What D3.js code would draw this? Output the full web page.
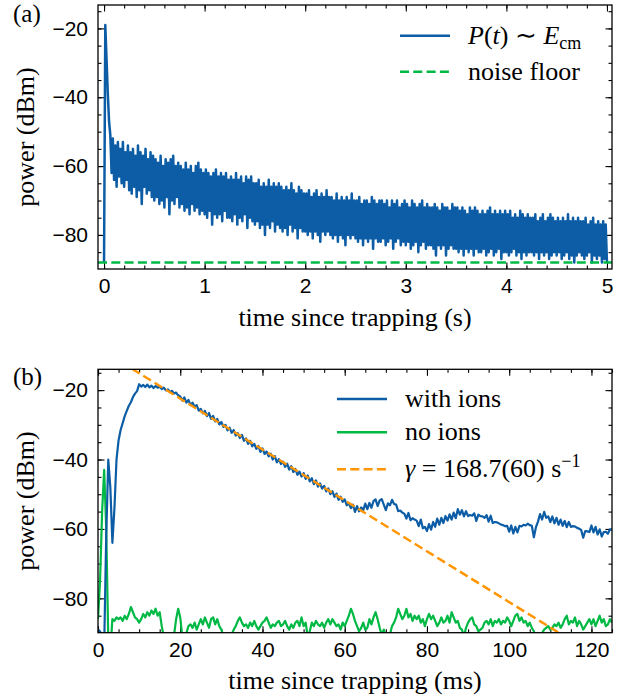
<!DOCTYPE html>
<html>
<head>
<meta charset="utf-8">
<script src="https://cdn.jsdelivr.net/npm/d3@7"></script>
<style>
  body { margin: 0; background: #fff; }
  svg { display: block; font-family: "Liberation Serif", "Times New Roman", serif; }
  .tick text { font-size: 21px; fill: #000; }
  .tick line { stroke: #000; stroke-width: 1.1; }
</style>
</head>
<body>
<div id="chart"></div>
<script>
// ---- data ----
// (a) long trace, one value every 12.5 ms from t = 0 to 5 s
const traceAStep = 0.0125;
const traceA = [
  -88, -19, -29, -39, -47, -51, -62, -52, -64, -54, -66, -53, -63, -55, -65, -53, -66, -56, -64, -54,
  -67, -56, -68, -55, -66, -57, -69, -54, -67, -56, -71, -57, -66, -55, -68, -58, -67, -56, -69, -57,
  -70, -58, -69, -59, -71, -57, -70, -60, -72, -58, -69, -59, -74, -58, -70, -57, -71, -60, -69, -59,
  -72, -60, -71, -61, -73, -59, -72, -61, -74, -60, -71, -62, -73, -60, -72, -59, -74, -61, -73, -62,
  -74, -61, -75, -62, -73, -63, -77, -62, -74, -61, -75, -63, -74, -62, -76, -63, -73, -62, -75, -64,
  -75, -63, -76, -64, -74, -62, -77, -64, -75, -63, -76, -65, -74, -63, -78, -64, -75, -63, -76, -65,
  -77, -65, -76, -64, -78, -66, -77, -65, -80, -66, -77, -64, -78, -66, -76, -65, -79, -66, -77, -65,
  -78, -66, -79, -67, -78, -66, -80, -67, -77, -65, -79, -67, -78, -68, -81, -66, -78, -67, -79, -68,
  -79, -68, -80, -67, -79, -69, -81, -68, -79, -67, -80, -69, -82, -68, -79, -69, -80, -67, -79, -69,
  -80, -69, -81, -70, -80, -68, -82, -70, -80, -69, -81, -70, -83, -69, -80, -70, -81, -68, -80, -70,
  -81, -70, -82, -69, -81, -71, -83, -70, -81, -70, -82, -71, -81, -69, -84, -70, -81, -71, -82, -70,
  -82, -70, -81, -71, -83, -70, -82, -72, -81, -70, -84, -71, -82, -70, -81, -72, -83, -71, -82, -70,
  -83, -71, -82, -72, -84, -70, -83, -71, -82, -72, -85, -71, -83, -70, -82, -72, -84, -71, -83, -72,
  -83, -72, -84, -71, -86, -72, -83, -73, -84, -71, -83, -72, -86, -72, -84, -73, -83, -71, -84, -72,
  -84, -72, -85, -73, -84, -72, -86, -73, -84, -74, -85, -72, -84, -73, -86, -72, -84, -73, -85, -74,
  -85, -73, -84, -74, -86, -73, -85, -72, -84, -74, -86, -73, -85, -74, -84, -73, -87, -74, -85, -73,
  -85, -74, -86, -73, -85, -75, -84, -74, -86, -75, -85, -73, -87, -74, -85, -75, -86, -74, -85, -75,
  -85, -75, -86, -74, -85, -76, -87, -75, -85, -74, -86, -76, -85, -75, -87, -74, -86, -75, -85, -76,
  -86, -75, -85, -76, -87, -75, -86, -76, -85, -74, -87, -76, -86, -75, -88, -76, -86, -75, -85, -76,
  -86, -76, -87, -75, -86, -77, -85, -76, -88, -75, -86, -77, -87, -76, -86, -77, -88, -76, -87, -77,
  -88
];
const noiseFloor = -88;

// (b) zoom on the first 125 ms, one value every 0.5 ms
const traceBStep = 0.5;
const withIons = [
  -89, -89.5, -91, -94, -62, -40, -48, -64, -54, -40,
  -34.5, -31.5, -29.5, -27.5, -26, -24.5, -23.5, -22, -21, -20.3,
  -18.3, -19, -18.5, -19.1, -18.4, -19.2, -18.7, -19.4, -18.8, -19.3,
  -19, -19.7, -19.3, -20.1, -19.8, -20.5, -20.2, -21, -20.7, -21.5,
  -21.8, -23.0, -22.1, -23.6, -22.8, -24.3, -23.6, -24.8, -24.3, -25.9,
  -25.4, -26.7, -26.0, -27.5, -26.6, -28.3, -27.4, -29.0, -28.3, -29.9,
  -29.2, -30.6, -30.0, -31.6, -30.8, -32.3, -31.5, -33.1, -32.4, -33.8,
  -32.9, -34.6, -33.9, -35.5, -34.6, -36.2, -35.5, -36.9, -36.1, -37.8,
  -36.8, -38.4, -37.7, -39.1, -38.3, -40.0, -39.0, -40.8, -39.9, -41.3,
  -40.6, -42.1, -41.2, -42.9, -41.9, -43.6, -42.7, -44.4, -43.5, -44.9,
  -43.9, -45.6, -44.6, -46.3, -45.4, -47.1, -46.0, -47.8, -46.9, -48.4,
  -47.6, -49.2, -48.3, -50.0, -49.1, -50.8, -49.8, -51.6, -50.7, -52.2,
  -51.5, -53.2, -52.6, -54.0, -53.0, -55.1, -53.4, -54.9, -53.8, -54.6,
  -52.7, -54.3, -52.5, -53.9, -52.0, -51.5, -53.4, -51.8, -51.4, -53.0,
  -54.6, -52.6, -53.2, -51.6, -52.8, -53.0, -54.9, -54.7, -55.3, -55.6,
  -57.0, -55.4, -57.5, -56.9, -57.3, -57.6, -59.2, -57.3, -59.8, -59.4,
  -60.6, -58.6, -60.2, -58.0, -59.4, -57.0, -58.8, -56.8, -58.3, -56.3,
  -57.6, -55.8, -57.3, -55.3, -56.9, -54.3, -55.9, -54.6, -56.4, -54.9,
  -56.3, -56.0, -56.2, -55.5, -57.7, -55.9, -56.3, -56.4, -56.8, -56.0,
  -57.9, -56.2, -58.3, -58.0, -58.1, -58.4, -58.7, -58.9, -59.2, -59.1,
  -60.8, -59.0, -61.3, -59.4, -61.0, -59.1, -59.3, -58.8, -59.0, -58.5,
  -58.9, -59.1, -62.4, -59.5, -57.9, -55.7, -57.3, -55.1, -56.8, -56.4,
  -58.0, -56.4, -58.4, -56.8, -58.8, -57.3, -59.1, -57.7, -59.5, -58.0,
  -59.4, -59.2, -59.3, -59.7, -59.9, -60.3, -62.5, -60.6, -60.7, -60.9,
  -59.0, -61.0, -59.4, -61.6, -60.1, -62.2, -60.9, -60.8, -61.4, -60.1,
  -60.3
];
const noIons = [
  -86, -75, -55, -43, -60, -92, -95, -86, -86.5, -85.5,
  -86, -85.5, -86.5, -85, -86, -84.5, -82.5, -84, -85.5, -86,
  -87, -86, -84.5, -85.5, -84, -85, -83.5, -84.5, -83, -85,
  -84, -88, -91, -93, -92, -94, -91, -90.5, -86, -83,
  -85.5, -91, -93, -90, -88, -87.5, -88.5, -87, -89, -87.5,
  -86, -87.5, -85.5, -87, -88.5, -86, -85.5, -87.5, -86, -88,
  -89, -91, -93, -92, -91, -90.5, -89, -88, -86.5, -85.5,
  -87, -88, -87.5, -88.5, -87, -88, -86.5, -88, -89, -88,
  -87, -86.5, -85.5, -87, -88.5, -87.5, -88, -87, -86.5, -88,
  -87.5, -86.5, -88, -89, -87.5, -88.5, -87, -86.5, -88, -85.5,
  -88, -87, -91, -89.5, -87, -88, -86.5, -87.5, -88, -87,
  -88.5, -87, -86, -87.5, -86, -87, -88, -87.5, -89, -87,
  -88, -86.5, -85, -83, -84.5, -86.5, -88, -89.5, -88.5, -87,
  -89, -88.5, -86, -87.5, -85.5, -84, -86, -88.5, -90.5, -89,
  -91, -92, -90.5, -88, -87, -85.5, -83, -84.5, -86, -85,
  -83, -85.5, -84.5, -86.5, -85, -86, -85, -87, -86, -88,
  -86, -84.5, -86, -85, -86.5, -88, -87, -85.5, -87, -86.5,
  -85, -87, -84, -85.5, -87, -86.5, -88.5, -89, -91, -88.5,
  -87, -86, -85.5, -87.5, -88, -89.5, -89, -88.5, -87, -86.5,
  -87.5, -86, -88, -86.5, -87, -86, -87.5, -86.5, -87, -85.5,
  -86.5, -88, -86.5, -85, -84.5, -86.5, -85.5, -87, -86.5, -88,
  -87, -88.5, -89.5, -91, -92, -91, -90, -89, -88.5, -88,
  -89, -88.5, -87.5, -88, -87, -88.5, -87.5, -86, -85, -87.5,
  -86.5, -87, -85.5, -88, -86.5, -87.5, -89, -88, -87, -86,
  -87.5, -86, -88, -86.5, -85, -87, -86, -88, -87.5, -86,
  -87
];
// exponential fit, straight in dB: end points (ms, dBm)
const fitLine = [{t: 0, p: -7.8}, {t: 125, p: -99.4}];

const xTicksA = [0, 1, 2, 3, 4, 5];
const xTicksB = [0, 20, 40, 60, 80, 100, 120];
const yTicks = [-80, -60, -40, -20];

const legendA = ["P(t) ~ Ecm", "noise floor"];
const legendB = ["with ions", "no ions", "γ = 168.7(60) s−1"];

// ---- layout ----
const W = 627, H = 696;
const blue = "#0C5DA5", green = "#00B945", orange = "#FF9500";

const svg = d3.select("#chart").append("svg")
    .attr("width", W)
    .attr("height", H);

// draws frame, ticks and labels for one panel, returns its scales
function drawPanel(p) {
  var x = d3.scaleLinear().domain(p.xDomain).range([p.left, p.right]);
  var y = d3.scaleLinear().domain(p.yDomain).range([p.bottom, p.top]);

  var g = svg.append("g");

  var clipId = "clip-" + p.name;
  g.append("clipPath").attr("id", clipId)
    .append("rect")
      .attr("x", p.left).attr("y", p.top)
      .attr("width", p.right - p.left).attr("height", p.bottom - p.top);

  var fmt = d => d3.format("d")(d);

  // minor ticks on all four sides
  var minorAxes = [
    [d3.axisBottom(x).tickValues(p.xMinor), "translate(0," + p.bottom + ")"],
    [d3.axisTop(x).tickValues(p.xMinor), "translate(0," + p.top + ")"],
    [d3.axisLeft(y).tickValues(p.yMinor), "translate(" + p.left + ",0)"],
    [d3.axisRight(y).tickValues(p.yMinor), "translate(" + p.right + ",0)"]
  ];
  minorAxes.forEach(function(a) {
    g.append("g").attr("transform", a[1])
      .call(a[0].tickSize(-3.5).tickFormat(""))
      .call(s => s.select(".domain").remove());
  });

  // major ticks, labels only bottom and left
  g.append("g").attr("transform", "translate(0," + p.bottom + ")")
    .call(d3.axisBottom(x).tickValues(p.xTicks).tickSize(-6.5).tickPadding(9).tickFormat(fmt))
    .call(s => s.select(".domain").remove());
  g.append("g").attr("transform", "translate(0," + p.top + ")")
    .call(d3.axisTop(x).tickValues(p.xTicks).tickSize(-6.5).tickFormat(""))
    .call(s => s.select(".domain").remove());
  g.append("g").attr("transform", "translate(" + p.left + ",0)")
    .call(d3.axisLeft(y).tickValues(yTicks).tickSize(-6.5).tickPadding(10).tickFormat(fmt))
    .call(s => s.select(".domain").remove());
  g.append("g").attr("transform", "translate(" + p.right + ",0)")
    .call(d3.axisRight(y).tickValues(yTicks).tickSize(-6.5).tickFormat(""))
    .call(s => s.select(".domain").remove());

  g.selectAll(".tick text").attr("font-family", null).attr("font-size", null);

  // axis labels
  svg.append("text")
    .attr("x", (p.left + p.right) / 2)
    .attr("y", p.xLabelY)
    .attr("text-anchor", "middle")
    .attr("font-size", 26)
    .text(p.xLabel);
  svg.append("text")
    .attr("transform", "translate(34," + (p.top + p.bottom) / 2 + ") rotate(-90)")
    .attr("text-anchor", "middle")
    .attr("font-size", 26)
    .text("power (dBm)");

  // panel letter
  svg.append("text")
    .attr("x", 13)
    .attr("y", p.letterY)
    .attr("font-size", 25)
    .text(p.letter);

  var plot = g.append("g").attr("clip-path", "url(#" + clipId + ")");

  return {x: x, y: y, g: g, plot: plot, p: p};
}

function drawFrame(panel) {
  var p = panel.p;
  panel.g.append("rect")
    .attr("x", p.left).attr("y", p.top)
    .attr("width", p.right - p.left).attr("height", p.bottom - p.top)
    .attr("fill", "none")
    .attr("stroke", "#000")
    .attr("stroke-width", 1.3);
}

// ---- panel (a) ----
var a = drawPanel({
  name: "a", letter: "(a)", letterY: 22,
  left: 98, right: 612, top: 5, bottom: 269,
  xDomain: [-0.06, 5.05], yDomain: [-89.9, -13.2],
  xTicks: xTicksA, xMinor: d3.range(0, 5.01, 0.2),
  yMinor: d3.range(-85, -14, 5),
  xLabel: "time since trapping (s)", xLabelY: 326
});

var lineA = d3.line()
    .x((d, i) => a.x(i * traceAStep))
    .y(d => a.y(d));

a.plot.append("path")
    .datum(traceA)
    .attr("d", lineA)
    .attr("fill", "none")
    .attr("stroke", blue)
    .attr("stroke-width", 2.5)
    .attr("stroke-linejoin", "round");

a.plot.append("line")
    .attr("x1", a.x(-0.06)).attr("x2", a.x(5.05))
    .attr("y1", a.y(noiseFloor)).attr("y2", a.y(noiseFloor))
    .attr("stroke", green)
    .attr("stroke-width", 2.4)
    .attr("stroke-dasharray", "9,4.3");

drawFrame(a);

// legend (a)
var legA = svg.append("g");
legA.append("line").attr("x1", 400).attr("x2", 450).attr("y1", 35.7).attr("y2", 35.7)
    .attr("stroke", blue).attr("stroke-width", 2.4);
legA.append("line").attr("x1", 400).attr("x2", 450).attr("y1", 71.7).attr("y2", 71.7)
    .attr("stroke", green).attr("stroke-width", 2.4).attr("stroke-dasharray", "9,4.3");

var tA = legA.append("text").attr("x", 468).attr("y", 44).attr("font-size", 26);
tA.append("tspan").attr("font-style", "italic").text("P");
tA.append("tspan").text("(");
tA.append("tspan").attr("font-style", "italic").text("t");
tA.append("tspan").text(") ∼ ");
tA.append("tspan").attr("font-style", "italic").text("E");
tA.append("tspan").attr("font-size", 18).attr("dy", 5).text("cm");

legA.append("text").attr("x", 468).attr("y", 80).attr("font-size", 26).text(legendA[1]);

// ---- panel (b) ----
var b = drawPanel({
  name: "b", letter: "(b)", letterY: 385,
  left: 98, right: 612, top: 369.3, bottom: 632.7,
  xDomain: [0, 125], yDomain: [-89.9, -14],
  xTicks: xTicksB, xMinor: d3.range(0, 126, 5),
  yMinor: d3.range(-85, -14, 5),
  xLabel: "time since trapping (ms)", xLabelY: 689
});

var lineB = d3.line()
    .x((d, i) => b.x(i * traceBStep))
    .y(d => b.y(d));

b.plot.append("path")
    .datum(noIons)
    .attr("d", lineB)
    .attr("fill", "none")
    .attr("stroke", green)
    .attr("stroke-width", 2.2)
    .attr("stroke-linejoin", "round");

b.plot.append("path")
    .datum(withIons)
    .attr("d", lineB)
    .attr("fill", "none")
    .attr("stroke", blue)
    .attr("stroke-width", 2.2)
    .attr("stroke-linejoin", "round");

b.plot.append("path")
    .datum(fitLine)
    .attr("d", d3.line().x(d => b.x(d.t)).y(d => b.y(d.p)))
    .attr("fill", "none")
    .attr("stroke", orange)
    .attr("stroke-width", 2.4)
    .attr("stroke-dasharray", "9,4.3");

drawFrame(b);

// legend (b)
var legB = svg.append("g");
var legBRows = [
  {y: 399, color: blue, dash: null},
  {y: 432.3, color: green, dash: null},
  {y: 469.3, color: orange, dash: "9,4.3"}
];
legBRows.forEach(function(r) {
  legB.append("line").attr("x1", 337).attr("x2", 387).attr("y1", r.y).attr("y2", r.y)
      .attr("stroke", r.color).attr("stroke-width", 2.4).attr("stroke-dasharray", r.dash);
});
legB.append("text").attr("x", 405).attr("y", 407).attr("font-size", 26).text(legendB[0]);
legB.append("text").attr("x", 405).attr("y", 440.3).attr("font-size", 26).text(legendB[1]);

var tB = legB.append("text").attr("x", 405).attr("y", 477.3).attr("font-size", 26);
tB.append("tspan").attr("font-style", "italic").text("γ");
tB.append("tspan").text(" = 168.7(60) s");
tB.append("tspan").attr("font-size", 18).attr("dy", -10).text("−1");
</script>
</body>
</html>
